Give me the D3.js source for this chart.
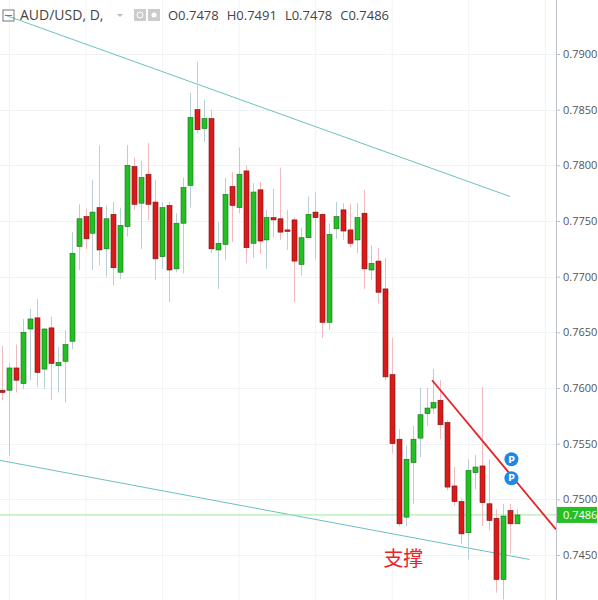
<!DOCTYPE html>
<html><head><meta charset="utf-8">
<script src="https://cdn.jsdelivr.net/npm/d3@7"></script>
<style>body{margin:0;background:#fff}svg{display:block}</style>
</head><body>
<svg id="chart" width="598" height="600"></svg>
<script>
// OHLC per day, [open, high, low, close]
const candles = [
  [.7598,.7638,.7589,.7596],[.7598,.7622,.7539,.7618],[.7618,.7639,.7596,.7607],[.7604,.7662,.7599,.7650],
  [.7653,.7671,.7607,.7662],[.7663,.7680,.7601,.7614],[.7617,.7654,.7599,.7653],[.7654,.7664,.7589,.7622],
  [.7620,.7637,.7596,.7623],[.7624,.7652,.7587,.7639],[.7642,.7740,.7635,.7721],[.7727,.7765,.7706,.7752],
  [.7754,.7761,.7725,.7734],[.7739,.7787,.7706,.7758],[.7762,.7818,.7710,.7724],[.7725,.7764,.7700,.7752],
  [.7756,.7767,.7692,.7708],[.7704,.7762,.7698,.7746],[.7745,.7818,.7736,.7800],[.7799,.7807,.7760,.7765],
  [.7766,.7804,.7725,.7789],[.7792,.7820,.7751,.7765],[.7767,.7787,.7697,.7716],[.7718,.7767,.7707,.7762],
  [.7764,.7767,.7677,.7706],[.7707,.7757,.7704,.7748],[.7748,.7789,.7703,.7780],[.7782,.7865,.7762,.7843],
  [.7850,.7893,.7829,.7832],[.7833,.7859,.7821,.7842],[.7842,.7850,.7721,.7725],[.7724,.7749,.7689,.7730],
  [.7729,.7789,.7715,.7774],[.7781,.7794,.7731,.7764],[.7762,.7816,.7757,.7792],[.7795,.7800,.7712,.7726],
  [.7730,.7784,.7717,.7776],[.7778,.7785,.7720,.7732],[.7733,.7760,.7707,.7753],[.7753,.7779,.7735,.7751],
  [.7752,.7798,.7733,.7740],[.7742,.7760,.7724,.7741],[.7751,.7753,.7677,.7714],[.7711,.7744,.7701,.7735],
  [.7735,.7772,.7735,.7756],[.7758,.7776,.7716,.7753],[.7756,.7757,.7645,.7659],[.7659,.7748,.7652,.7738],
  [.7743,.7767,.7734,.7754],[.7760,.7766,.7733,.7741],[.7742,.7765,.7726,.7730],[.7733,.7766,.7721,.7753],
  [.7757,.7778,.7689,.7707],[.7706,.7728,.7697,.7712],[.7714,.7726,.7676,.7686],[.7689,.7717,.7607,.7610],
  [.7612,.7645,.7541,.7550],[.7554,.7563,.7476,.7478],[.7484,.7548,.7476,.7536],[.7533,.7566,.7496,.7554],
  [.7555,.7600,.7538,.7576],[.7577,.7600,.7566,.7582],[.7582,.7617,.7577,.7587],[.7589,.7607,.7554,.7567],
  [.7569,.7571,.7508,.7511],[.7512,.7529,.7494,.7498],[.7498,.7501,.7460,.7469],[.7470,.7536,.7446,.7526],
  [.7524,.7540,.7509,.7529],[.7530,.7601,.7476,.7497],[.7496,.7536,.7472,.7481],[.7483,.7491,.7416,.7428],
  [.7428,.7496,.7410,.7485],[.7490,.7496,.7451,.7478],[.7478,.7491,.7478,.7486]
];
const yTicks = [.7900,.7850,.7800,.7750,.7700,.7650,.7600,.7550,.7500,.7450];
const lastPrice = 0.7486;
// drawn trend lines: [[index, price], [index, price]]
const channelLines = [[[0.4,.7935],[73,.7772]], [[-0.3,.7535],[75.8,.7446]]];
const resistLine = [[61.8,.7607],[79.6,.7473]];
const markers = [[73.2,.7536],[73.2,.7519]];
const header = ["AUD/USD, D,", "O0.7478", "H0.7491", "L0.7478", "C0.7486"];

const W = 598, H = 600, plotR = 556;
const svg = d3.select("#chart");
const x = d3.scaleLinear().domain([0, 74]).range([2, 517]);
const y = d3.scaleLinear().domain([.7450, .7900]).range([555, 54]);

svg.append("defs").append("clipPath").attr("id", "pc")
  .append("rect").attr("x", 0).attr("y", 0).attr("width", plotR).attr("height", H);

// grid
const grid = svg.append("g");
grid.selectAll(".hg").data(yTicks).enter().append("line")
  .attr("x1", 0).attr("x2", plotR).attr("y1", d => Math.round(y(d)) + .5).attr("y2", d => Math.round(y(d)) + .5)
  .attr("stroke", "#f0f3f6");
grid.selectAll(".vg").data(d3.range(0, 8)).enter().append("line")
  .attr("x1", d => x(1 + d * 11) + .5).attr("x2", d => x(1 + d * 11) + .5).attr("y1", 0).attr("y2", H)
  .attr("stroke", "#f0f3f6");

const plot = svg.append("g").attr("clip-path", "url(#pc)");

const line = d3.line().x(d => x(d[0])).y(d => y(d[1]));
plot.selectAll(".ch").data(channelLines).enter().append("path")
  .attr("d", line).attr("stroke", "#6fbfbf").attr("stroke-width", 1).attr("fill", "none");

// last price line
plot.append("line").attr("x1", 0).attr("x2", plotR)
  .attr("y1", y(lastPrice)).attr("y2", y(lastPrice)).attr("stroke", "#9ee89e").attr("stroke-width", 1);

// candles
const bw = 5;
const g = plot.selectAll(".c").data(candles).enter().append("g");
g.append("line")
  .attr("x1", (d, i) => Math.round(x(i)) + .5).attr("x2", (d, i) => Math.round(x(i)) + .5)
  .attr("y1", d => y(d[1])).attr("y2", d => y(d[2]))
  .attr("stroke", d => d[3] >= d[0] ? "#b9cfd6" : "#f4b8bf").attr("stroke-width", 1);
g.append("rect")
  .attr("x", (d, i) => Math.round(x(i)) - bw / 2 + .5)
  .attr("y", d => y(Math.max(d[0], d[3])))
  .attr("width", bw)
  .attr("height", d => Math.max(1.5, Math.abs(y(d[0]) - y(d[3]))))
  .attr("fill", d => d[3] >= d[0] ? "#22c024" : "#dd1a1a")
  .attr("stroke", d => d[3] >= d[0] ? "#1a6e1a" : "#6e1414").attr("stroke-width", .6);

plot.append("path").datum(resistLine).attr("d", line)
  .attr("stroke", "#e8232a").attr("stroke-width", 1.8).attr("fill", "none");

// P markers
const mk = svg.selectAll(".mk").data(markers).enter().append("g")
  .attr("transform", d => `translate(${x(d[0])},${y(d[1])})`);
mk.append("circle").attr("r", 7).attr("fill", "#1e88e5");
mk.append("text").attr("text-anchor", "middle").attr("dy", "0.36em")
  .attr("fill", "#fff").style("font", "bold 9px 'DejaVu Sans'").text("P");

svg.append("text").attr("x", x(54.8)).attr("y", y(.7440))
  .attr("fill", "#e8232a").style("font", "20px 'Noto Sans CJK SC'").text("支撑");

// right axis
svg.append("rect").attr("x", plotR).attr("y", 0).attr("width", W - plotR).attr("height", H).attr("fill", "#fff");
svg.append("line").attr("x1", plotR + .5).attr("x2", plotR + .5).attr("y1", 0).attr("y2", H).attr("stroke", "#bcc2c8");
const ax = svg.append("g").attr("transform", `translate(${plotR},0)`)
  .call(d3.axisRight(y).tickValues(yTicks).tickFormat(d3.format(".4f")).tickSize(4));
ax.select(".domain").remove();
ax.selectAll("line").attr("stroke", "#bcc2c8");
ax.selectAll("text").attr("fill", "#555").style("font", "11px 'Open Sans'").attr("x", 7);

const lp = svg.append("g").attr("transform", `translate(${plotR},${y(lastPrice)})`);
lp.append("rect").attr("x", 1).attr("y", -8).attr("width", 40).attr("height", 16).attr("fill", "#26c026");
lp.append("text").attr("x", 7).attr("dy", "0.35em").attr("fill", "#fff")
  .style("font", "11px 'Open Sans'").text(d3.format(".4f")(lastPrice));

// header
const hd = svg.append("g").attr("transform", "translate(0,20)");
hd.append("rect").attr("x", 3).attr("y", -10).attr("width", 11).attr("height", 11)
  .attr("fill", "none").attr("stroke", "#777");
hd.append("line").attr("x1", 5).attr("x2", 12).attr("y1", -4.5).attr("y2", -4.5).attr("stroke", "#777");
hd.append("text").attr("x", 20).attr("fill", "#444").style("font", "14px 'Open Sans'").text(header[0]);
hd.append("path").attr("d", "M117,-6 l6,0 l-3,3z").attr("fill", "#bbb");
hd.append("rect").attr("x", 134).attr("y", -11).attr("width", 12).attr("height", 12).attr("fill", "#ccc");
hd.append("rect").attr("x", 148).attr("y", -11).attr("width", 12).attr("height", 12).attr("fill", "#ccc");
hd.append("circle").attr("cx", 140).attr("cy", -5).attr("r", 3).attr("fill", "none").attr("stroke", "#fff");
hd.append("circle").attr("cx", 154).attr("cy", -5).attr("r", 2.5).attr("fill", "#fff");
let hx = 168;
header.slice(1).forEach(t => {
  const tx = hd.append("text").attr("x", hx).attr("fill", "#444")
    .style("font", "13px 'Open Sans'").text(t);
  hx += tx.node().getComputedTextLength() + 8;
});
</script>
</body></html>
